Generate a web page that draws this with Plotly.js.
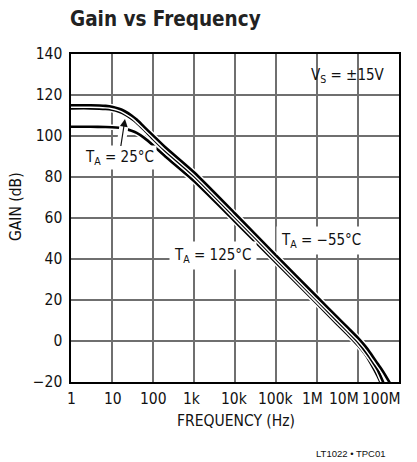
<!DOCTYPE html>
<html>
<head>
<meta charset="utf-8">
<script src="https://cdn.plot.ly/plotly-3.0.1.min.js"></script>
<style>
  html, body { margin: 0; padding: 0; background: #fff; }
  #chart { width: 417px; height: 462px; }
</style>
</head>
<body>
<div id="chart"></div>
<script>
// ---- data ----
const freqHz = [1, 3, 7, 10, 15, 20, 30, 40, 60, 100, 200, 1e3, 1e4, 1e5, 1e6, 3e6, 6e6, 1e7, 1.5e7, 2e7, 3e7, 4e7, 6e7, 8e7];
const gainMinus55C = [115, 115, 114.7, 114.3, 113.3, 112.2, 110, 108, 104.6, 100.3, 94.5, 82.3, 62.2, 41.8, 21.6, 12, 6, 1.5, -2.5, -5.8, -11, -14.6, -20.5, -25];
const gain25C      = [113.5, 113.5, 113.2, 112.8, 111.8, 110.7, 108.5, 106.5, 103.1, 98.6, 92.8, 80.6, 60.5, 40.1, 19.9, 10.2, 4.2, -0.5, -5, -8.4, -14, -19.5, -27, -33];
const gain125C     = [104.5, 104.5, 104.4, 104.3, 104, 103.6, 102.6, 101.5, 99.2, 95.5, 90, 78, 58.3, 38.3, 18.2, 8.5, 2.5, -2.2, -6.5, -10.5, -17, -22.5, -30, -36];

const xTickVals = [1, 10, 100, 1e3, 1e4, 1e5, 1e6, 1e7, 1e8];
const xTickText = ['1', '10', '100', '1k', '10k', '100k', '1M', '10M', '100M'];
const yTickVals = [-20, 0, 20, 40, 60, 80, 100, 120, 140];
const yTickText = ['\u221220', '0', '20', '40', '60', '80', '100', '120', '140'];

const NARROW = '"Liberation Sans Narrow", "DejaVu Sans Condensed", "DejaVu Sans", sans-serif';
const TXT = '#111';

const series = [
  {name: 'TA = 125°C', y: gain125C},
  {name: 'TA = 25°C', y: gain25C},
  {name: 'TA = −55°C', y: gainMinus55C}
];

const traces = [];
series.forEach(s => {
  // white halo to separate neighbouring curves
  traces.push({x: freqHz, y: s.y, type: 'scatter', mode: 'lines', hoverinfo: 'skip',
    line: {color: '#ffffff', width: 5.5, shape: 'spline', smoothing: 0.6}, showlegend: false});
  traces.push({x: freqHz, y: s.y, type: 'scatter', mode: 'lines', name: s.name,
    line: {color: '#000000', width: 2.6, shape: 'spline', smoothing: 0.6}, showlegend: false});
});

const fnt = (size, color) => ({family: NARROW, size: size, color: color || TXT, stretch: 'condensed'});

// frequency tick labels: drawn at the axis' own tick positions; the crowded
// right-hand labels are nudged left as in the reference
const xLabelNudge = [0.5, 1, 0, -2, -1, 0, -5, -14, -18];
const xTickLabels = xTickVals.map((v, i) => ({
  text: xTickText[i], xref: 'x', yref: 'paper', x: Math.log10(v), y: (382 - 399) / 328,
  xanchor: 'center', yanchor: 'middle', xshift: xLabelNudge[i], showarrow: false, font: fnt(15.5)
}));

const layout = {
  width: 417, height: 462,
  margin: {l: 71, r: 18, t: 54, b: 80, pad: 0},
  paper_bgcolor: '#fff', plot_bgcolor: '#fff',
  showlegend: false,
  title: {
    text: 'Gain vs Frequency',
    font: {family: NARROW, size: 20.5, weight: 'bold', color: '#222', stretch: 'condensed'},
    x: 70 / 417, xref: 'container', xanchor: 'left',
    y: 1 - 19 / 462, yref: 'container', yanchor: 'middle'
  },
  xaxis: {
    type: 'log', range: [0, 8],
    tickvals: xTickVals, ticktext: xTickText, showticklabels: false,
    showgrid: true, gridcolor: '#6f6f6f', gridwidth: 1.3,
    showline: true, mirror: true, linecolor: '#000', linewidth: 1.6,
    ticks: '', zeroline: false,
    fixedrange: true
  },
  yaxis: {
    range: [-20, 140],
    tickvals: yTickVals, ticktext: yTickText,
    showgrid: true, gridcolor: '#6f6f6f', gridwidth: 1.3,
    showline: true, mirror: true, linecolor: '#000', linewidth: 1.6,
    ticks: '', zeroline: false, ticklabelstandoff: 4,
    tickfont: fnt(15.5),
    fixedrange: true
  },
  annotations: xTickLabels.concat([
    {text: 'FREQUENCY (Hz)', xref: 'paper', yref: 'paper', x: (236 - 71) / 328, y: (382 - 421) / 328,
     xanchor: 'center', yanchor: 'middle', showarrow: false, font: fnt(15.5)},
    {text: 'GAIN (dB)', xref: 'paper', yref: 'paper', x: (16 - 71) / 328, y: (382 - 207) / 328,
     xanchor: 'center', yanchor: 'middle', textangle: -90, showarrow: false, font: fnt(15.5)},
    {text: 'V<sub>S</sub> = ±15V', xref: 'paper', yref: 'paper', x: (387 - 71) / 328, y: (382 - 76) / 328,
     xanchor: 'right', yanchor: 'middle', showarrow: false, font: fnt(15)},
    {text: 'T<sub>A</sub> = \u221255°C', xref: 'x', yref: 'y', x: 6.1, y: 48.8,
     xanchor: 'center', yanchor: 'middle', showarrow: false, bgcolor: '#fff', borderpad: 4, font: fnt(15)},
    {text: 'T<sub>A</sub> = 125°C', xref: 'x', yref: 'y', x: 3.46, y: 41.5,
     xanchor: 'center', yanchor: 'middle', showarrow: false, bgcolor: '#fff', borderpad: 4, font: fnt(15)},
    // white knock-out under the arrow
    {text: ' ', xref: 'x', yref: 'y', x: 1.317, y: 108.3, ax: -6, ay: 39,
     showarrow: true, arrowhead: 0, arrowwidth: 9, arrowcolor: '#fff', standoff: 3, font: fnt(15, '#fff')},
    {text: 'T<sub>A</sub> = 25°C', xref: 'x', yref: 'y', x: 1.317, y: 108.3, ax: -6, ay: 39,
     showarrow: true, arrowhead: 2, arrowsize: 1.3, arrowwidth: 1.2, arrowcolor: '#111',
     bgcolor: '#fff', borderpad: 2, font: fnt(15)},
    {text: 'LT1022 • TPC01', xref: 'paper', yref: 'paper', x: (388 - 71) / 328, y: (382 - 453) / 328,
     xanchor: 'right', yanchor: 'middle', showarrow: false,
     font: {family: '"Liberation Sans", Arial, sans-serif', size: 9.5, color: TXT}}
  ])
};

Plotly.newPlot('chart', traces, layout, {displayModeBar: false, staticPlot: true});
</script>
</body>
</html>
